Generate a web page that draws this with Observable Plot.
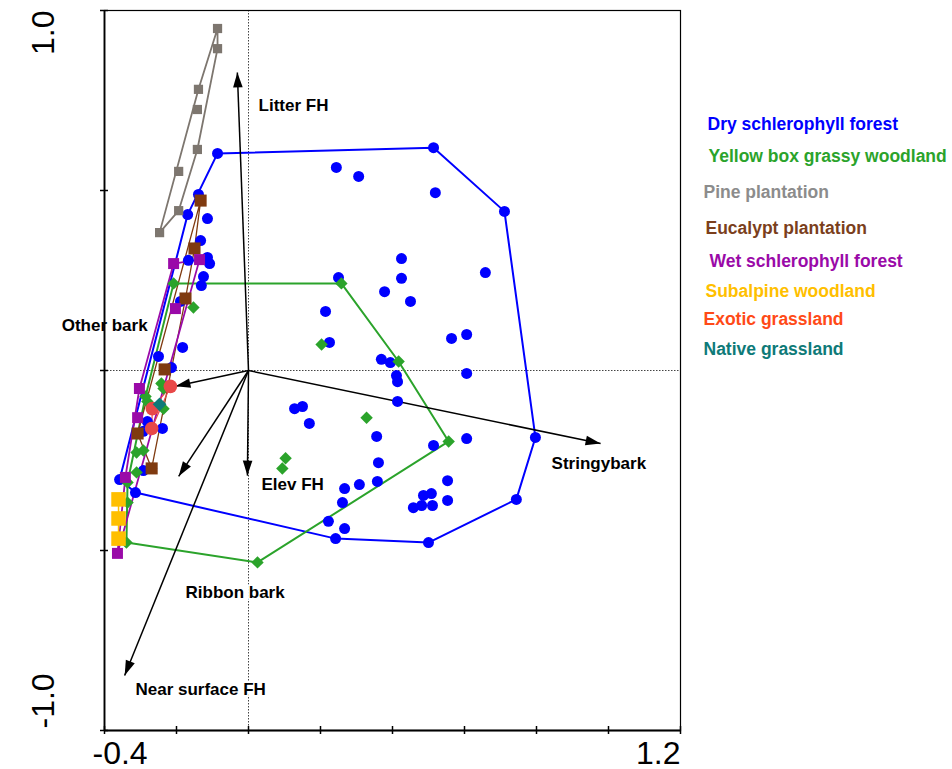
<!DOCTYPE html>
<html><head><meta charset="utf-8">
<script src="https://cdn.jsdelivr.net/npm/d3@7"></script>
<script src="https://cdn.jsdelivr.net/npm/@observablehq/plot@0.6"></script>
<style>body{margin:0;background:#fff}</style>
</head><body><div id="chart"></div>
<script>
// ---- data (ordination scores) ----
const groupNames = ["Dry schlerophyll forest","Yellow box grassy woodland","Pine plantation","Eucalypt plantation","Wet schlerophyll forest","Subalpine woodland","Exotic grassland","Native grassland"];

const dryX = [-0.086,0.514,0.711,0.797,0.744,0.500,0.242,-0.314,-0.358,-0.169,-0.139,0.244,0.306,0.519,0.425,0.425,0.250,0.378,0.450,0.658,0.214,0.225,0.369,0.394,0.411,0.414,0.564,0.606,0.606,0.414,0.128,0.150,0.169,0.356,0.514,0.606,0.361,0.267,0.308,0.358,0.261,0.222,0.267,0.553,0.553,0.486,0.508,0.458,0.481,0.511,-0.114,-0.133,-0.167,-0.114,-0.108,-0.125,-0.131,-0.189,-0.183,-0.250,-0.214,-0.281,-0.292,-0.239,-0.292,-0.269];
const dryY = [0.603,0.619,0.442,-0.186,-0.358,-0.478,-0.467,-0.339,-0.303,0.433,0.489,0.564,0.539,0.494,0.311,0.256,0.258,0.219,0.192,0.272,0.164,0.078,0.031,0.022,-0.014,-0.031,0.089,0.100,-0.008,-0.086,-0.106,-0.100,-0.147,-0.183,-0.208,-0.189,-0.256,-0.328,-0.317,-0.308,-0.367,-0.419,-0.439,-0.306,-0.361,-0.347,-0.342,-0.381,-0.375,-0.375,0.422,0.361,0.306,0.314,0.297,0.261,0.236,0.192,0.064,0.039,0.008,-0.142,-0.169,-0.161,-0.278,-0.272];

const yboxX = [-0.208,0.258,0.417,0.556,0.025,-0.339,0.203,0.328,0.103,0.094,-0.153,-0.242,-0.236,-0.286,-0.281,-0.236,-0.292,-0.311,-0.311,-0.336,-0.336];
const yboxY = [0.242,0.242,0.025,-0.197,-0.533,-0.478,0.072,-0.131,-0.244,-0.272,0.175,-0.036,-0.050,-0.072,-0.086,-0.106,-0.222,-0.228,-0.283,-0.311,-0.367];

const pineX = [-0.086,-0.086,-0.139,-0.142,-0.142,-0.194,-0.194,-0.247];
const pineY = [0.950,0.894,0.781,0.725,0.614,0.553,0.444,0.383];

const eucX = [-0.133,-0.150,-0.175,-0.233,-0.308,-0.269];
const eucY = [0.472,0.339,0.200,0.003,-0.175,-0.272];

const wetX = [-0.208,-0.136,-0.203,-0.303,-0.308,-0.342,-0.364];
const wetY = [0.297,0.308,0.172,-0.050,-0.131,-0.297,-0.508];

const subX = [-0.361,-0.361,-0.361];
const subY = [-0.358,-0.411,-0.467];

const exoX = [-0.217,-0.267,-0.269];
const exoY = [-0.044,-0.106,-0.161];

const natX = [-0.247];
const natY = [-0.094];

// environmental vectors
const envNames = ["Litter FH","Other bark","Stringybark","Elev FH","Ribbon bark","Near surface FH"];
const envX = [-0.031,-0.203,0.978,-0.003,-0.194,-0.344];
const envY = [0.828,-0.044,-0.203,-0.292,-0.294,-0.847];
const envLabelX = [0.028,-0.519,0.842,0.036,-0.175,-0.314];
const envLabelY = [0.736,0.125,-0.258,-0.317,-0.617,-0.886];

const xTicks = [-0.4,-0.2,0,0.2,0.4,0.6,0.8,1.0,1.2];
const yTicks = [-1,-0.5,0,0.5,1];
const xTickLabels = ["-0.4","1.2"];
const yTickLabels = ["-1.0","1.0"];

// ---- styles ----
const markColor = ["#0000ff","#2ba32b","#7d766f","#7f3a10","#9a0aa8","#ffbf00","#e84848","#0e7a78"];
const legendColor = ["#0000ff","#2ba32b","#8c8c8c","#7b3f1c","#9a0aa8","#ffbf00","#ff4a17","#0e7a78"];
const symbols = ["circle","diamond2","square","square","square","square","circle","diamond2"];
const radii = [5.5,5.6,5.2,6.8,6.2,8.2,6.8,6.2];
const hullWidth = [2,2,1.8,1.3,1.8,1.5,1.2,1.5];

const groupXs = [dryX,yboxX,pineX,eucX,wetX,subX,exoX,natX];
const groupYs = [dryY,yboxY,pineY,eucY,wetY,subY,exoY,natY];

const pts = groupXs.map((xs,g) => xs.map((x,i) => ({x, y: groupYs[g][i], g})));
const hulls = pts.map(p => p.length >= 3 ? d3.polygonHull(p.map(d => [d.x, d.y])) : null);

const arrows = envNames.map((name,i) => ({name, x: envX[i], y: envY[i], lx: envLabelX[i], ly: envLabelY[i]}));

const headShape = {
  draw(context, l, r) {
    context.moveTo(0, -l);
    context.lineTo(-r, 0);
    context.lineTo(r, 0);
    context.closePath();
  }
};

const legendPos = [[603,114],[604,146],[599,182],[601,218],[605,251],[601,281],[599,309],[599,339]];

const font = "'Liberation Sans', Arial, Helvetica, sans-serif";
const marks = [];

// reference dotted lines
marks.push(Plot.ruleX([0], {stroke: "#444", strokeWidth: 1, strokeDasharray: "1.5,1.5"}));
marks.push(Plot.ruleY([0], {stroke: "#444", strokeWidth: 1, strokeDasharray: "1.5,1.5"}));

// hulls
hulls.forEach((h,g) => {
  if (!h) return;
  marks.push(Plot.line(h, {x: d => d[0], y: d => d[1], curve: "linear-closed", stroke: markColor[g], strokeWidth: hullWidth[g]}));
});

// arrows
marks.push(Plot.link(arrows, {x1: () => 0, y1: () => 0, x2: "x", y2: "y", stroke: "black", strokeWidth: 1.5}));
marks.push(Plot.vector(arrows, {x: "x", y: "y", rotate: d => Math.atan2(d.x, d.y) * 180 / Math.PI, length: 15, r: 4.8, anchor: "end", shape: headShape, fill: "black", stroke: "none"}));

// points
pts.forEach((p,g) => {
  marks.push(Plot.dot(p, {x: "x", y: "y", symbol: symbols[g], r: radii[g], fill: markColor[g], stroke: "none"}));
});

// vector labels
marks.push(Plot.text(arrows, {x: "lx", y: "ly", text: "name", textAnchor: "start", lineAnchor: "middle", fontSize: 17, fontWeight: "bold", fill: "black", stroke: "white", strokeWidth: 4, paintOrder: "stroke"}));

// frame & ticks
marks.push(Plot.frame({stroke: "black", strokeWidth: 1.2}));
marks.push(Plot.ruleX([xTicks[0]], {stroke: "black", strokeWidth: 1.8}));
marks.push(Plot.ruleY([yTicks[0]], {stroke: "black", strokeWidth: 1.8}));
marks.push(Plot.ruleX(xTicks, {x: d => d, y1: () => yTicks[0], y2: () => yTicks[0], insetTop: -4, insetBottom: -4, stroke: "black", strokeWidth: 1.5}));
marks.push(Plot.ruleY(yTicks, {y: d => d, x1: () => xTicks[0], x2: () => xTicks[0], insetLeft: -4, insetRight: -4, stroke: "black", strokeWidth: 1.5}));

// tick labels
marks.push(Plot.text([xTickLabels[0]], {x: () => xTicks[0], y: () => yTicks[0], text: d => d, textAnchor: "start", lineAnchor: "middle", dx: -12, dy: 23, fontSize: 32, fill: "black"}));
marks.push(Plot.text([xTickLabels[1]], {x: () => xTicks[xTicks.length-1], y: () => yTicks[0], text: d => d, textAnchor: "end", lineAnchor: "middle", dx: 0, dy: 23, fontSize: 32, fill: "black"}));
marks.push(Plot.text([yTickLabels[0]], {x: () => xTicks[0], y: () => yTicks[0], text: d => d, rotate: -90, textAnchor: "start", lineAnchor: "middle", dx: -61, dy: -2, fontSize: 32, fill: "black"}));
marks.push(Plot.text([yTickLabels[1]], {x: () => xTicks[0], y: () => yTicks[yTicks.length-1], text: d => d, rotate: -90, textAnchor: "end", lineAnchor: "middle", dx: -61, dy: 0, fontSize: 32, fill: "black"}));

// legend
groupNames.forEach((name,g) => {
  marks.push(Plot.text([name], {frameAnchor: "top-left", text: d => d, dx: legendPos[g][0], dy: legendPos[g][1], textAnchor: "start", lineAnchor: "middle", fontSize: 17.5, fontWeight: "bold", fill: legendColor[g]}));
});

const chart = Plot.plot({
  width: 952,
  height: 769,
  marginLeft: 104,
  marginRight: 272,
  marginTop: 10,
  marginBottom: 39,
  x: {domain: [xTicks[0], xTicks[xTicks.length-1]], axis: null},
  y: {domain: [yTicks[0], yTicks[yTicks.length-1]], axis: null},
  style: {fontFamily: font, background: "white", overflow: "visible"},
  marks
});
document.getElementById("chart").appendChild(chart);
</script>
</body></html>
